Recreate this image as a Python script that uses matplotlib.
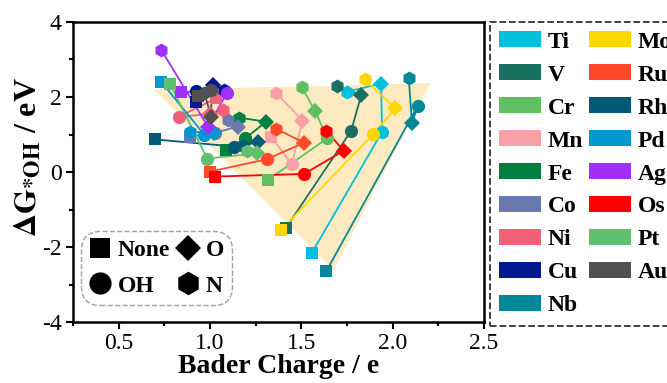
import matplotlib
matplotlib.use("Agg")
import matplotlib.pyplot as plt
from matplotlib.lines import Line2D
from matplotlib.patches import Patch, Polygon

plt.rcParams['font.family'] = ['Liberation Serif', 'DejaVu Serif']
plt.rcParams['mathtext.fontset'] = 'stix'
plt.rcParams['axes.unicode_minus'] = False

metals = ['Ti', 'V', 'Cr', 'Mn', 'Fe', 'Co', 'Ni', 'Cu', 'Nb',
          'Mo', 'Ru', 'Rh', 'Pd', 'Ag', 'Os', 'Pt', 'Au']
colors = ['#00C0DD', '#1A7060', '#60C060', '#F8A0A8', '#008040', '#6A7AB0',
          '#F06078', '#001890', '#008899', '#FFD700', '#FF4A2A', '#005A78',
          '#0098D0', '#A030FF', '#FF0000', '#60C070', '#505050']

# Bader charge (e) and dG*OH (eV) for each termination
x_none = [1.557, 1.416, 1.316, 1.334, 1.089, 0.889, 1.034, 0.925, 1.637,
          1.388, 0.998, 0.698, 0.734, 0.843, 1.029, 0.780, 0.934]
y_none = [-2.16, -1.49, -0.21, 0.94, 0.59, 0.94, 1.97, 1.86, -2.64,
          -1.55, 0.01, 0.87, 2.40, 2.14, -0.12, 2.36, 2.03]
x_oh = [1.942, 1.773, 1.643, 1.448, 1.194, 1.030, 0.829, 0.925, 2.137,
        1.893, 1.310, 1.134, 0.970, 1.094, 1.515, 0.985, 1.007]
y_oh = [1.07, 1.10, 0.90, 0.21, 0.90, 1.05, 1.47, 2.15, 1.76,
        1.01, 0.34, 0.68, 0.99, 2.12, -0.05, 0.36, 2.19]
x_o = [1.937, 1.828, 1.575, 1.506, 1.307, 1.152, 1.000, 1.016, 2.106,
       2.015, 1.515, 1.261, 1.020, 0.989, 1.733, 1.256, 1.007]
y_o = [2.36, 2.05, 1.63, 1.37, 1.34, 1.21, 1.55, 2.32, 1.30,
       1.70, 0.78, 0.81, 1.03, 1.21, 0.57, 0.50, 1.47]
x_n = [1.752, 1.697, 1.503, 1.361, 1.161, 1.100, 1.070, 1.078, 2.088,
       1.846, 1.361, 1.180, 0.889, 0.734, 1.637, 1.200, 0.970]
y_n = [2.14, 2.29, 2.26, 2.12, 1.45, 1.40, 1.65, 2.19, 2.52,
       2.47, 1.16, 0.69, 1.08, 3.25, 1.09, 0.55, 2.10]

region_x = [0.695, 2.206, 1.677]
region_y = [2.19, 2.37, -2.61]

term_labels = ['None', 'OH', 'O', 'N']
term_markers = ['s', 'o', 'D', 'h']

fig = plt.figure(figsize=(6.67, 3.83), dpi=100)
ax = fig.add_axes([0.1094, 0.159, 0.6162, 0.7836])

ax.add_patch(Polygon(list(zip(region_x, region_y)), closed=True,
                     facecolor='#FDEAC0', edgecolor='none', zorder=0))

ms = {'s': 8.5, 'o': 9.5, 'D': 8, 'h': 10}
for i, m in enumerate(metals):
    xs = [x_none[i], x_oh[i], x_o[i], x_n[i]]
    ys = [y_none[i], y_oh[i], y_o[i], y_n[i]]
    ax.plot(xs, ys, '-', color=colors[i], lw=1.3, zorder=2)
    for xv, yv, mk in zip(xs, ys, term_markers):
        ax.plot([xv], [yv], linestyle='none', marker=mk, markersize=ms[mk],
                color=colors[i], markeredgewidth=0, zorder=3)

ax.set_xlim(0.25, 2.5)
ax.set_ylim(-4, 4)
ax.set_xticks([0.5, 1.0, 1.5, 2.0, 2.5])
ax.set_xticklabels(['0.5', '1.0', '1.5', '2.0', '2.5'])
ax.set_xticks([0.25, 0.75, 1.25, 1.75, 2.25], minor=True)
ax.set_yticks([-4, -2, 0, 2, 4])
ax.set_yticks([-3, -1, 1, 3], minor=True)
ax.tick_params(which='both', direction='out', width=1.5, labelsize=17, pad=3)
ax.tick_params(which='major', length=5)
ax.tick_params(which='minor', length=3)
for s in ax.spines.values():
    s.set_linewidth(1.8)

ax.set_xlabel('Bader Charge / e', fontsize=20, fontweight='bold', labelpad=0)
ax.set_ylabel(r'$\mathbf{\Delta G_{*OH}}$ / eV', fontsize=23,
              fontweight='bold')
ax.yaxis.set_label_coords(-0.075, 0.55)

# termination legend
tms = {'s': 14, 'o': 16, 'D': 13, 'h': 17}
h_terms = [Line2D([], [], linestyle='none', marker=mk, color='black',
                  markersize=tms[mk], markeredgewidth=0)
           for mk in term_markers]
leg1 = ax.legend(h_terms, term_labels, loc='lower left', ncol=2,
                 bbox_to_anchor=(0.02, 0.057), frameon=True, fancybox=True,
                 prop={'weight': 'bold', 'size': 17}, handlelength=0.9,
                 handletextpad=0.3, columnspacing=0.3, labelspacing=0.6,
                 borderpad=0.35, borderaxespad=0.0)
fr = leg1.get_frame()
fr.set_edgecolor('#888888')
fr.set_linestyle('--')
fr.set_linewidth(1.0)
fr.set_boxstyle('round,pad=0.0,rounding_size=0.8')

# metal legend
h_metals = [Patch(facecolor=c, edgecolor='none') for c in colors]
leg2 = fig.legend(h_metals, metals, loc='upper left',
                  bbox_to_anchor=(0.7346, 0.9426), ncol=2, frameon=True,
                  fancybox=False, prop={'weight': 'bold', 'size': 17},
                  handlelength=1.75, handleheight=0.65, handletextpad=0.3,
                  columnspacing=0.25, labelspacing=0.5, borderpad=0.4,
                  borderaxespad=0.0)
fr2 = leg2.get_frame()
fr2.set_edgecolor('black')
fr2.set_linestyle('--')
fr2.set_linewidth(1.3)

fig.savefig('out.png', dpi=100)
